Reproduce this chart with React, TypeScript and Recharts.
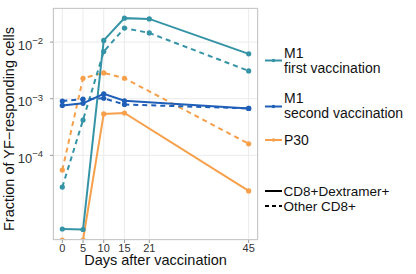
import React from 'react';
import { LineChart, Line, XAxis, YAxis, CartesianGrid } from 'recharts';

const days = [0, 5, 10, 15, 21, 45];
const dayTicks = [0, 5, 10, 15, 21, 45];
const yTicks = [1e-4, 1e-3, 1e-2];
const yTickExp = ['−4', '−3', '−2'];

const m1FirstDex = [5.0e-6, 4.9e-6, 1.07e-2, 2.65e-2, 2.57e-2, 6.2e-3];
const m1FirstOther = [2.75e-5, 4.2e-4, 6.8e-3, 1.77e-2, 1.45e-2, 3.1e-3];
const m1SecondDex = [7.6e-4, 8.3e-4, 1.22e-3, 9.2e-4, null, 6.75e-4];
const m1SecondOther = [9.1e-4, 9.8e-4, 1.02e-3, 7.9e-4, null, 6.75e-4];
const p30Dex = [3.2e-6, 3.2e-6, 5.4e-4, 5.6e-4, null, 2.35e-5];
const p30Other = [5.5e-5, 2.3e-3, 2.85e-3, 2.3e-3, null, 1.6e-4];

const groups = [
  { name: 'M1', sub: 'first vaccination', color: '#3593a6' },
  { name: 'M1', sub: 'second vaccination', color: '#1f5fb8' },
  { name: 'P30', sub: '', color: '#f7a04b' },
];

const data = days.map((d, i) => ({
  day: d,
  m1fd: m1FirstDex[i],
  m1fo: m1FirstOther[i],
  m1sd: m1SecondDex[i],
  m1so: m1SecondOther[i],
  p30d: p30Dex[i],
  p30o: p30Other[i],
}));

const FONT = '"Liberation Sans", Arial, Helvetica, sans-serif';

const YTick = (props: any) => {
  const { x, y, payload } = props;
  const idx = yTicks.indexOf(payload.value);
  return (
    <text x={x - 5} y={y + 7.5} textAnchor="end" fontFamily={FONT} fill="#333">
      <tspan fontSize={13}>10</tspan>
      <tspan fontSize={9.5} dy={-5.5}>{yTickExp[idx]}</tspan>
    </text>
  );
};

const XTick = (props: any) => {
  const { x, payload } = props;
  return (
    <text x={x} y={251.5} textAnchor="middle" fontFamily={FONT} fontSize={11} fill="#333">
      {payload.value}
    </text>
  );
};

const lineCommon = { type: 'linear' as const, isAnimationActive: false, connectNulls: true, strokeWidth: 2 };

export default function App() {
  return (
    <div style={{ position: 'absolute', left: 0, top: 0, width: 416, height: 274, background: '#fff' }}>
      <LineChart width={416} height={274} data={data} margin={{ top: 8, right: 158, bottom: 0, left: 0 }}>
        <CartesianGrid stroke="#ebebeb" strokeWidth={1} />
        <XAxis
          dataKey="day"
          type="number"
          domain={[-2.25, 47.25]}
          ticks={dayTicks}
          allowDataOverflow
          axisLine={false}
          tickLine={{ stroke: '#999' }}
          tickSize={3}
          tick={<XTick />}
          height={34}
          interval={0}
        />
        <YAxis
          scale="log"
          domain={[3.2e-6, 4.0e-2]}
          ticks={yTicks}
          allowDataOverflow
          axisLine={false}
          tickLine={{ stroke: '#999' }}
          tickSize={3}
          tick={<YTick />}
          width={53}
          interval={0}
        />
        <Line dataKey="p30o" {...lineCommon} stroke={groups[2].color} strokeDasharray="5 4" dot={{ r: 2.6, fill: groups[2].color, strokeWidth: 0 }} />
        <Line dataKey="p30d" {...lineCommon} stroke={groups[2].color} dot={{ r: 2.6, fill: groups[2].color, strokeWidth: 0 }} />
        <Line dataKey="m1fo" {...lineCommon} stroke={groups[0].color} strokeDasharray="5 4" dot={{ r: 2.6, fill: groups[0].color, strokeWidth: 0 }} />
        <Line dataKey="m1fd" {...lineCommon} stroke={groups[0].color} dot={{ r: 2.6, fill: groups[0].color, strokeWidth: 0 }} />
        <Line dataKey="m1so" {...lineCommon} stroke={groups[1].color} strokeDasharray="5 4" dot={{ r: 2.6, fill: groups[1].color, strokeWidth: 0 }} />
        <Line dataKey="m1sd" {...lineCommon} stroke={groups[1].color} dot={{ r: 2.6, fill: groups[1].color, strokeWidth: 0 }} />
      </LineChart>
      <svg width={416} height={274} style={{ position: 'absolute', left: 0, top: 0, pointerEvents: 'none' }}>
        <rect x={53.5} y={8.5} width={204} height={231} fill="none" stroke="#c8c8c8" strokeWidth={1} />
        <text x={155.5} y={265} textAnchor="middle" fontFamily={FONT} fontSize={14.5} fill="#111">Days after vaccination</text>
        <text x={13.5} y={129} transform="rotate(-90, 13.5, 129)" textAnchor="middle" fontFamily={FONT} fontSize={14.5} fill="#111">Fraction of YF−responding cells</text>
        <line x1={265} x2={282} y1={60.5} y2={60.5} stroke={groups[0].color} strokeWidth={2} />
        <circle cx={273.5} cy={60.5} r={1.8} fill={groups[0].color} />
        <text x={284} y={58} fontFamily={FONT} fontSize={14} fill="#111">{groups[0].name}</text>
        <text x={284} y={73} fontFamily={FONT} fontSize={14} fill="#111">{groups[0].sub}</text>
        <line x1={265} x2={282} y1={106.5} y2={106.5} stroke={groups[1].color} strokeWidth={2} />
        <circle cx={273.5} cy={106.5} r={1.8} fill={groups[1].color} />
        <text x={284} y={102.5} fontFamily={FONT} fontSize={14} fill="#111">{groups[1].name}</text>
        <text x={284} y={117.5} fontFamily={FONT} fontSize={14} fill="#111">{groups[1].sub}</text>
        <line x1={265} x2={282} y1={140} y2={140} stroke={groups[2].color} strokeWidth={2} />
        <circle cx={273.5} cy={140} r={1.8} fill={groups[2].color} />
        <text x={284} y={145} fontFamily={FONT} fontSize={14} fill="#111">{groups[2].name}</text>
        <line x1={265} x2={282} y1={191} y2={191} stroke="#000" strokeWidth={2} />
        <text x={283.5} y={195.5} fontFamily={FONT} fontSize={13.5} fill="#111">CD8+Dextramer+</text>
        <line x1={265} x2={282} y1={206} y2={206} stroke="#000" strokeWidth={2} strokeDasharray="4 3" />
        <text x={283.5} y={211} fontFamily={FONT} fontSize={13.5} fill="#111">Other CD8+</text>
      </svg>
    </div>
  );
}
